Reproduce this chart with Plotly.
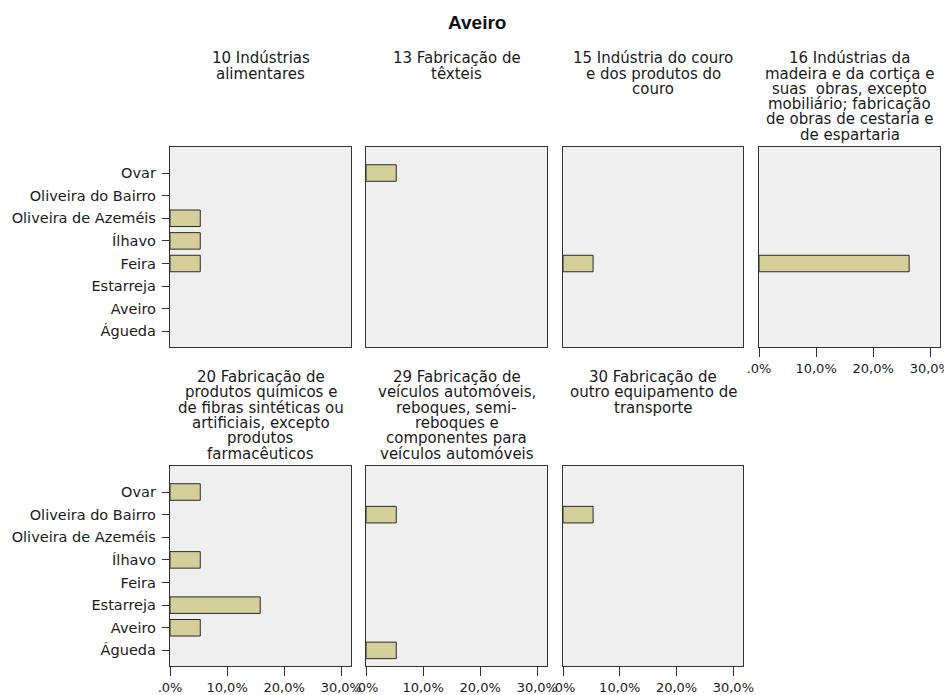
import plotly.graph_objects as go

# ---------------- data ----------------
main_title = "Aveiro"
categories = ["Águeda", "Aveiro", "Estarreja", "Feira", "Ílhavo",
              "Oliveira de Azeméis", "Oliveira do Bairro", "Ovar"]

x_tickvals = [0, 10, 20, 30]
x_ticktext = [".0%", "10,0%", "20,0%", "30,0%"]

title_10 = ["10 Indústrias", "alimentares"]
title_13 = ["13 Fabricação de", "têxteis"]
title_15 = ["15 Indústria do couro", "e dos produtos do", "couro"]
title_16 = ["16 Indústrias da", "madeira e da cortiça e", "suas  obras, excepto",
            "mobiliário; fabricação", "de obras de cestaria e", "de espartaria"]
title_20 = ["20 Fabricação de", "produtos químicos e", "de fibras sintéticas ou",
            "artificiais, excepto", "produtos", "farmacêuticos"]
title_29 = ["29 Fabricação de", "veículos automóveis,", "reboques, semi-",
            "reboques e", "componentes para", "veículos automóveis"]
title_30 = ["30 Fabricação de", "outro equipamento de", "transporte"]

# percentages per municipality (order of `categories`), None = no bar
values_10 = [None, None, None, 5.3, 5.3, 5.3, None, None]
values_13 = [None, None, None, None, None, None, None, 5.3]
values_15 = [None, None, None, 5.3, None, None, None, None]
values_16 = [None, None, None, 26.3, None, None, None, None]
values_20 = [None, 5.3, 15.8, None, 5.3, None, None, 5.3]
values_29 = [5.3, None, None, None, None, None, 5.3, None]
values_30 = [None, None, None, None, None, None, 5.3, None]

# ---------------- layout helpers ----------------
W, H = 952, 695
OFF = 8  # page offset compensation (px)
col_px = [(170, 351), (366, 547), (563, 743), (759, 940)]
row_px = [(147, 347), (466, 666)]
row_title_top = [58.3, 377.0]
line_step = 15.3


def px_x(v):
    return (v - OFF) / W


def px_y(v):
    return 1 - (v - OFF) / H


panels = [
    (values_10, title_10, 0, 0, False),
    (values_13, title_13, 0, 1, False),
    (values_15, title_15, 0, 2, False),
    (values_16, title_16, 0, 3, True),
    (values_20, title_20, 1, 0, True),
    (values_29, title_29, 1, 1, True),
    (values_30, title_30, 1, 2, True),
]

FONT = "DejaVu Sans"
AXCOL = "#333333"
BAR_FILL = "#D4CE98"
BAR_LINE = "#2a2a2a"
TXT = "#1a1a1a"

fig = go.Figure()
layout = dict(
    width=W, height=H,
    margin=dict(l=0, r=0, t=0, b=0, pad=0),
    paper_bgcolor="white",
    plot_bgcolor="#EFEFEF",
    showlegend=False,
    font=dict(family=FONT, size=14, color=TXT),
)
annotations = [dict(
    text="<b>" + main_title + "</b>", x=px_x(477), y=px_y(23),
    xref="paper", yref="paper", xanchor="center", yanchor="middle",
    showarrow=False, font=dict(family="Liberation Sans", size=19, color="#111111"),
)]

for i, (vals, tlines, r, c, show_x) in enumerate(panels):
    n = "" if i == 0 else str(i + 1)
    xa, ya = "x" + n, "y" + n
    fig.add_trace(go.Bar(
        x=vals, y=categories, orientation="h", width=0.73,
        xaxis=xa, yaxis=ya,
        marker=dict(color=BAR_FILL, line=dict(color=BAR_LINE, width=1)),
        hoverinfo="x+y",
    ))
    x0, x1 = col_px[c]
    y0, y1 = row_px[r]
    layout["xaxis" + n] = dict(
        domain=[px_x(x0), px_x(x1)], anchor=ya, range=[0, 31.7],
        automargin=False,
        showgrid=False, zeroline=False, showline=True, mirror=True,
        linecolor=AXCOL, linewidth=1.3,
        tickmode="array", tickvals=x_tickvals, ticktext=x_ticktext,
        ticks="outside" if show_x else "", ticklen=9, tickwidth=1.3, tickcolor=AXCOL,
        showticklabels=show_x,
        tickfont=dict(family=FONT, size=13, color=TXT),
        fixedrange=True,
    )
    layout["yaxis" + n] = dict(
        domain=[px_y(y1), px_y(y0)], anchor=xa,
        automargin=False,
        type="category", categoryorder="array", categoryarray=categories,
        range=[-0.69, 8.15],
        showgrid=False, zeroline=False, showline=True, mirror=True,
        linecolor=AXCOL, linewidth=1.3,
        ticks="outside" if c == 0 else "", ticklen=7, tickwidth=1.3, tickcolor=AXCOL,
        showticklabels=(c == 0), ticklabelstandoff=3,
        tickfont=dict(family=FONT, size=14.5, color=TXT),
        fixedrange=True,
    )
    cx = px_x((x0 + x1) / 2)
    for k, line in enumerate(tlines):
        ypx = row_title_top[r] + k * line_step
        annotations.append(dict(
            text=line, x=cx, y=px_y(ypx), xref="paper", yref="paper",
            xanchor="center", yanchor="middle", showarrow=False,
            font=dict(family=FONT, size=15, color=TXT),
        ))

layout["annotations"] = annotations
fig.update_layout(**layout)
fig.write_html("out.html")
